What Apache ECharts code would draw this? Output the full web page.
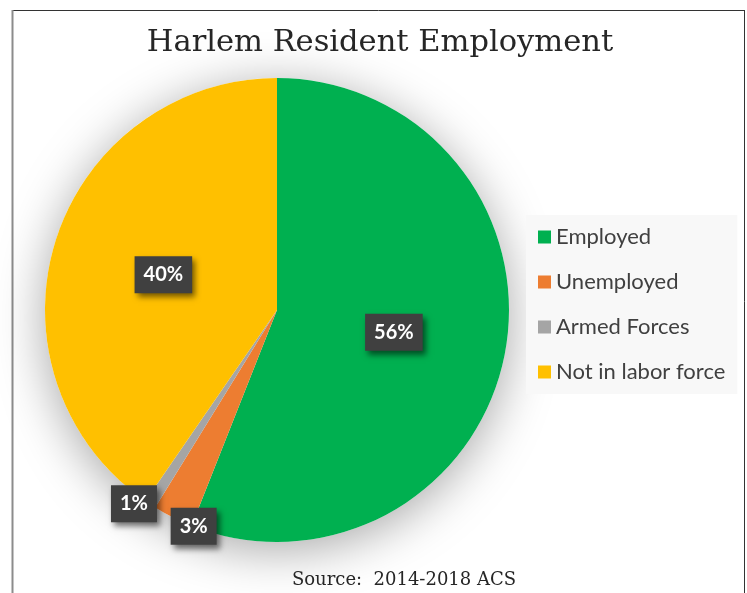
<!DOCTYPE html>
<html>
<head>
<meta charset="utf-8">
<script src="https://cdn.jsdelivr.net/npm/echarts@6/dist/echarts.min.js"></script>
<style>
  html, body { margin: 0; padding: 0; background: #fff; }
  #chart { width: 747px; height: 593px; }
</style>
</head>
<body>
<div id="chart"></div>
<script>
let categories = ['Employed', 'Unemployed', 'Armed Forces', 'Not in labor force'];
let shares = [56.0, 2.8, 0.8, 40.4];
let colors = ['#00b050', '#ed7d31', '#a5a5a5', '#ffc000'];
// small slices have their labels pushed out to the rim
let labelShift = [[0, 0], [-30, 110], [-78, 94], [0, 0]];

let chart = echarts.init(document.getElementById('chart'));

let pieData = categories.map((c, i) => ({
  name: c,
  value: shares[i],
  itemStyle: { color: colors[i] }
}));

let option = {
  backgroundColor: '#ffffff',
  animation: false,
  title: [
    {
      text: 'Harlem Resident Employment',
      left: 375,
      top: 23,
      textAlign: 'center',
      textStyle: {
        fontFamily: 'DejaVu Serif',
        fontWeight: 'normal',
        fontSize: 30.5,
        color: '#262626'
      }
    },
    {
      text: 'Source:  2014-2018 ACS',
      left: 399,
      top: 566,
      textAlign: 'center',
      textStyle: {
        fontFamily: 'DejaVu Serif',
        fontWeight: 'normal',
        fontSize: 18,
        color: '#262626'
      }
    }
  ],
  legend: {
    orient: 'vertical',
    left: 526,
    top: 215,
    data: categories,
    icon: 'rect',
    itemWidth: 13,
    itemHeight: 13,
    itemGap: 21,
    itemTextGap: 7,
    padding: [10, 12, 10, 12],
    backgroundColor: '#f8f8f8',
    textStyle: {
      fontFamily: 'Lato',
      fontSize: 22,
      lineHeight: 24,
      color: '#404040'
    }
  },
  graphic: [
    { type: 'line', shape: { x1: 12, y1: 10.5, x2: 745, y2: 10.5 }, style: { stroke: '#333', lineWidth: 1 } },
    { type: 'line', shape: { x1: 12.5, y1: 10, x2: 12.5, y2: 593 }, style: { stroke: '#8c8c8c', lineWidth: 2 } },
    { type: 'line', shape: { x1: 744.5, y1: 10, x2: 744.5, y2: 593 }, style: { stroke: '#333', lineWidth: 1 } }
  ],
  series: [
    {
      // soft glow under the whole pie
      type: 'pie',
      silent: true,
      z: 1,
      center: [277, 310],
      radius: 232,
      label: { show: false },
      labelLine: { show: false },
      data: [{ name: 'shadow', value: 1 }],
      itemStyle: {
        color: '#ffffff',
        shadowBlur: 50,
        shadowOffsetX: 0,
        shadowOffsetY: 8,
        shadowColor: 'rgba(0,0,0,0.35)'
      }
    },
    {
      type: 'pie',
      z: 2,
      center: [277, 310],
      radius: 232,
      startAngle: 90,
      clockwise: true,
      avoidLabelOverlap: false,
      data: pieData,
      labelLine: { show: false },
      label: {
        show: true,
        position: 'inside',
        formatter: p => Math.round(p.value) + '%',
        color: '#ffffff',
        fontFamily: 'Lato',
        fontWeight: 'bold',
        fontSize: 20,
        backgroundColor: '#404040',
        padding: [9, 9, 8, 9],
        shadowColor: 'rgba(0,0,0,0.55)',
        shadowBlur: 6,
        shadowOffsetX: 3,
        shadowOffsetY: 4
      },
      labelLayout: function (params) {
        let s = labelShift[params.dataIndex];
        return { dx: s[0], dy: s[1] };
      }
    }
  ]
};

chart.setOption(option);
</script>
</body>
</html>
